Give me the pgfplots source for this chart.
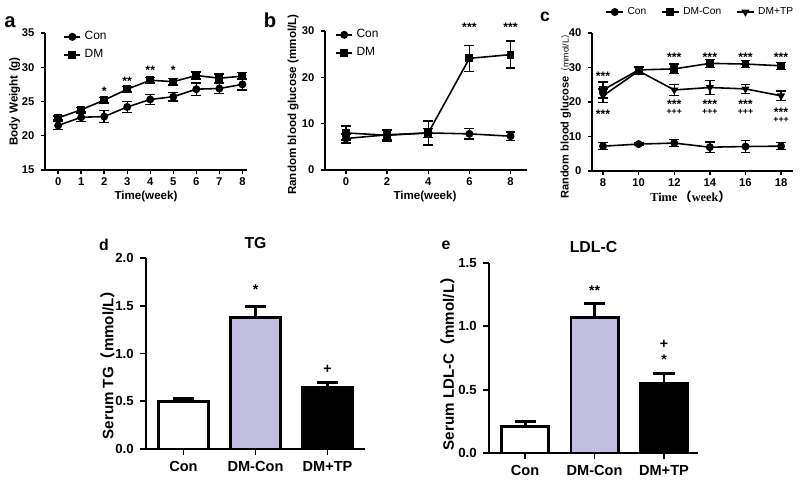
\documentclass[border=0pt]{standalone}
\usepackage{pgfplots}
\pgfplotsset{compat=1.18}
\usepackage{fontspec}
\setmainfont{Liberation Sans}
\newfontfamily\seriff{Liberation Serif}
\newfontfamily\cjk{Noto Sans CJK SC}
\definecolor{lav}{RGB}{194,190,226}

\tikzset{
  st/.style={font=\bfseries\fontsize{7}{7}\selectfont, inner sep=0pt, text height=0.72em, text depth=-0.42em},
  pl/.style={font=\bfseries\fontsize{7}{7}\selectfont, inner sep=0pt, text height=0.6em, text depth=-0.1em},
}
\pgfplotsset{
  lineax/.style={
    scale only axis, clip=false,
    axis lines=left, axis line style={line width=0.9pt,-},
    tick style={line width=0.8pt,black}, tick align=outside, major tick length=2.5pt,
    tick label style={font=\bfseries\fontsize{6.4}{7}\selectfont},
    xticklabel style={inner sep=1.5pt},
    /pgf/number format/assume math mode=true,
    label style={font=\bfseries\fontsize{6.6}{8}\selectfont},
    legend style={draw=none, fill=none, font=\fontsize{6.8}{8}\selectfont, inner sep=0pt, row sep=0pt},
    legend cell align=left,
    legend image code/.code={\draw[mark repeat=2,mark phase=2] plot coordinates {(0cm,0cm) (0.16cm,0cm) (0.32cm,0cm)};},
  },
  ser/.style={black, line width=0.9pt, mark size=1.8pt, mark options={fill=black, draw=black},
    error bars/y dir=both, error bars/y explicit,
    error bars/error bar style={line width=0.8pt, black},
    error bars/error mark options={rotate=90, mark size=2.8pt, line width=0.8pt, black}},
  barax/.style={
    scale only axis, clip=false,
    axis lines=left, axis line style={line width=1.1pt,-},
    tick style={line width=1pt,black}, tick align=outside, major tick length=3.5pt,
    tick label style={font=\bfseries\fontsize{7.5}{8}\selectfont},
    xticklabel style={font=\bfseries\fontsize{8.3}{9}\selectfont},
    /pgf/number format/assume math mode=true,
    yticklabel style={/pgf/number format/.cd, fixed, fixed zerofill, precision=1},
    label style={font=\bfseries\fontsize{8.6}{9}\selectfont},
    every axis title shift=0pt,
    title style={font=\bfseries\fontsize{9}{10}\selectfont},
    xtick={0,1,2}, xticklabels={Con,DM-Con,DM+TP}, ymin=0,
  },
  br/.style={ybar, bar shift=0pt, draw=black, line width=1.6pt,
    error bars/y dir=plus, error bars/y explicit,
    error bars/error bar style={line width=1.6pt, black},
    error bars/error mark options={rotate=90, mark size=6pt, line width=1.6pt, black}},
}

\begin{document}
\begin{tikzpicture}
\useasboundingbox (0,0) rectangle (16cm,9.6cm);

% ---------------- a
\begin{axis}[lineax, at={(0.90cm,6.20cm)}, anchor=south west,
  width=4.04cm, height=2.74cm,
  xmin=-0.57, xmax=8.2, ymin=15, ymax=35,
  xtick={0,...,8}, ytick={15,20,25,30,35},
  xlabel={Time(week)}, ylabel={Body Weight (g)},
  xlabel style={at={(axis description cs:0.5,-0.19)}, anchor=center},
  ylabel style={at={(axis description cs:-0.15,0.5)}, anchor=center},
  legend style={at={(0.09,1.04)}, anchor=north west}]
\addplot[ser, mark=*] table[x=x,y=y,y error=e] {
x y e
0 21.5 0.6
1 22.7 0.6
2 22.8 0.9
3 24.2 0.8
4 25.3 0.7
5 25.7 0.6
6 26.8 0.9
7 26.9 0.7
8 27.5 0.8
};
\addlegendentry{Con}
\addplot[ser, mark=square*] table[x=x,y=y,y error=e] {
x y e
0 22.6 0.3
1 23.8 0.3
2 25.2 0.4
3 26.8 0.4
4 28.1 0.4
5 27.9 0.5
6 28.8 0.5
7 28.4 0.6
8 28.7 0.5
};
\addlegendentry{DM}
\node[st] at (axis cs:2,26.8) {*};
\node[st] at (axis cs:3,28.3) {**};
\node[st] at (axis cs:4,29.9) {**};
\node[st] at (axis cs:5,29.9) {*};
\end{axis}

% ---------------- b
\begin{axis}[lineax, at={(6.50cm,6.20cm)}, anchor=south west,
  width=4.04cm, height=2.78cm,
  xmin=-1.02, xmax=8.8, ymin=0, ymax=30,
  xtick={0,2,4,6,8}, ytick={0,10,20,30},
  xlabel={Time(week)}, ylabel={Random blood glucose (mmol/L)},
  xlabel style={at={(axis description cs:0.495,-0.19)}, anchor=center},
  ylabel style={at={(axis description cs:-0.158,0.47)}, anchor=center},
  legend style={at={(0.05,1.04)}, anchor=north west}]
\addplot[ser, mark=*] table[x=x,y=y,y error=e] {
x y e
0 6.8 1.0
2 7.6 1.0
4 8.0 1.0
6 7.8 1.1
8 7.3 0.9
};
\addlegendentry{Con}
\addplot[ser, mark=square*] table[x=x,y=y,y error=e] {
x y e
0 8.0 1.5
2 7.5 1.2
4 8.0 2.6
6 24.1 2.8
8 24.9 2.9
};
\addlegendentry{DM}
\node[st] at (axis cs:6,31.3) {***};
\node[st] at (axis cs:8,31.3) {***};
\end{axis}

% ---------------- c
\begin{axis}[lineax, at={(11.84cm,6.18cm)}, anchor=south west,
  width=4.02cm, height=2.76cm,
  xmin=7.38, xmax=18.67, ymin=0, ymax=40,
  xtick={8,10,...,18}, ytick={0,10,20,30,40},
  xlabel={\seriff\bfseries\fontsize{7}{8}\selectfont Time\,{\cjk （}week{\cjk ）}},
  ylabel={\fontsize{6.3}{7}\selectfont Random blood glucose{\fontsize{5}{6}\selectfont\mdseries{\cjk （}mmol/L{\cjk ）}}},
  xlabel style={at={(axis description cs:0.49,-0.19)}, anchor=center},
  ylabel style={at={(axis description cs:-0.13,0.41)}, anchor=center},
  legend columns=3,
  legend style={at={(0.065,1.152)}, anchor=west, font=\fontsize{5.8}{7}\selectfont,
    /tikz/every even column/.append style={column sep=6.5pt}},
  legend image code/.code={\draw[mark repeat=2,mark phase=2] plot coordinates {(0cm,0cm) (0.17cm,0cm) (0.34cm,0cm)};}]
\addplot[ser, mark=*] table[x=x,y=y,y error=e] {
x y e
8 7.2 1.0
10 7.8 0.3
12 8.1 1.0
14 6.9 1.5
16 7.1 1.7
18 7.2 1.0
};
\addlegendentry{Con}
\addplot[ser, mark=square*] table[x=x,y=y,y error=e] {
x y e
8 23.5 2.3
10 29.3 1.0
12 29.6 1.4
14 31.2 1.2
16 31.0 1.0
18 30.5 1.0
};
\addlegendentry{DM-Con}
\addplot[ser, mark=triangle*, mark options={rotate=180, fill=black}] table[x=x,y=y,y error=e] {
x y e
8 21.8 2.0
10 29.0 1.0
12 23.5 1.6
14 24.2 2.0
16 23.8 1.3
18 21.8 1.4
};
\addlegendentry{DM+TP}
\node[st] at (axis cs:8,28.1) {***};
\node[st] at (axis cs:12,33.6) {***};
\node[st] at (axis cs:14,33.6) {***};
\node[st] at (axis cs:16,33.6) {***};
\node[st] at (axis cs:18,33.6) {***};
\node[st] at (axis cs:8,17.1) {***};
\node[st] at (axis cs:12,20.0) {***};
\node[st] at (axis cs:14,20.0) {***};
\node[st] at (axis cs:16,20.0) {***};
\node[st] at (axis cs:18,17.7) {***};
\node[pl, font=\bfseries\fontsize{5}{5}\selectfont] at (axis cs:12,17.9) {+++};
\node[pl, font=\bfseries\fontsize{5}{5}\selectfont] at (axis cs:14,17.9) {+++};
\node[pl, font=\bfseries\fontsize{5}{5}\selectfont] at (axis cs:16,17.9) {+++};
\node[pl, font=\bfseries\fontsize{5}{5}\selectfont] at (axis cs:18,15.7) {+++};
\end{axis}

% ---------------- d
\begin{axis}[barax, at={(2.92cm,0.62cm)}, anchor=south west,
  width=4.38cm, height=3.82cm,
  xmin=-0.52, xmax=2.52, ymax=2, ytick={0,0.5,1,1.5,2},
  title={TG}, title style={at={(axis description cs:0.5,1.08)}, anchor=center},
  ylabel={Serum TG{\cjk （}mmol/L{\cjk ）}},
  ylabel style={at={(axis description cs:-0.175,0.46)}, anchor=center}]
\addplot[br, bar width=0.69, fill=white] coordinates {(0,0.50) +- (0,0.03)};
\addplot[br, bar width=0.69, fill=lav] coordinates {(1,1.38) +- (0,0.11)};
\addplot[br, bar width=0.69, fill=black] coordinates {(2,0.64) +- (0,0.06)};
\node[st, font=\bfseries\fontsize{8}{8}\selectfont] at (axis cs:1,1.68) {*};
\node[pl, font=\bfseries\fontsize{8}{8}\selectfont] at (axis cs:2,0.85) {+};
\end{axis}

% ---------------- e
\begin{axis}[barax, at={(9.78cm,0.54cm)}, anchor=south west,
  width=4.18cm, height=3.80cm,
  xmin=-0.52, xmax=2.49, ymax=1.5, ytick={0,0.5,1,1.5},
  title={LDL-C}, title style={at={(axis description cs:0.5,1.084)}, anchor=center},
  ylabel={Serum LDL-C{\cjk （}mmol/L{\cjk ）}},
  ylabel style={at={(axis description cs:-0.196,0.49)}, anchor=center}]
\addplot[br, bar width=0.68, fill=white] coordinates {(0,0.21) +- (0,0.04)};
\addplot[br, bar width=0.68, fill=lav] coordinates {(1,1.07) +- (0,0.11)};
\addplot[br, bar width=0.68, fill=black] coordinates {(2,0.55) +- (0,0.08)};
\node[st, font=\bfseries\fontsize{8}{8}\selectfont] at (axis cs:1,1.29) {**};
\node[pl, font=\bfseries\fontsize{8}{8}\selectfont] at (axis cs:2,0.87) {+};
\node[st, font=\bfseries\fontsize{8}{8}\selectfont] at (axis cs:2,0.75) {*};
\end{axis}

% panel letters
\node[font=\bfseries\fontsize{11.5}{12}\selectfont] at (0.20cm,9.16cm) {a};
\node[font=\bfseries\fontsize{11.5}{12}\selectfont] at (5.40cm,9.20cm) {b};
\node[font=\bfseries\fontsize{10}{11}\selectfont] at (10.90cm,9.26cm) {c};
\node[font=\bfseries\fontsize{9}{10}\selectfont] at (2.08cm,4.70cm) {d};
\node[font=\bfseries\fontsize{9}{10}\selectfont] at (8.92cm,4.70cm) {e};
\end{tikzpicture}
\end{document}
